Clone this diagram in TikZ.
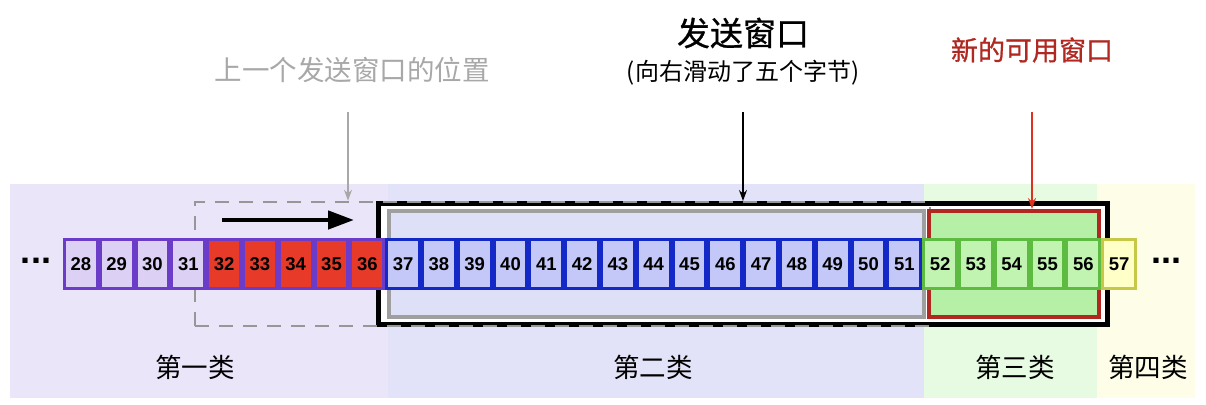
\documentclass[tikz,border=0pt]{standalone}
\usepackage{fontspec}
\setmainfont{Liberation Sans}
\newfontfamily\cjk{Noto Sans CJK SC}
\newfontfamily\cjkm{Noto Sans CJK SC}[FakeBold=0.8]
\usetikzlibrary{arrows.meta}
\definecolor{bgA}{HTML}{EBE5FA}
\definecolor{bgB}{HTML}{E2E3F8}
\definecolor{bgC}{HTML}{E7FAE2}
\definecolor{bgD}{HTML}{FDFDE8}
\definecolor{purB}{HTML}{6A3CC8}
\definecolor{purF}{HTML}{DCD0F4}
\definecolor{redF}{HTML}{E83A28}
\definecolor{bluB}{HTML}{1428C8}
\definecolor{bluF}{HTML}{C4C8F8}
\definecolor{grnB}{HTML}{5CBB40}
\definecolor{grnF}{HTML}{C0F4B0}
\definecolor{yelB}{HTML}{C8C848}
\definecolor{yelF}{HTML}{FFFFC8}
\definecolor{winRed}{HTML}{B02820}
\definecolor{lblGray}{HTML}{A8A8A8}
\definecolor{inFill}{HTML}{DEE0F8}
\definecolor{newFill}{HTML}{B6F0A6}
\definecolor{ptrRed}{HTML}{E03020}
\begin{document}
\begin{tikzpicture}[x=1pt,y=-1pt,
  cell/.style={draw, line width=3pt, minimum width=32.8pt, minimum height=49pt,
    inner sep=0pt, font=\bfseries\fontsize{18.5}{18.5}\selectfont},
  purcell/.style={cell, draw=purB, fill=purF},
  redcell/.style={cell, draw=purB, fill=redF},
  blucell/.style={cell, draw=bluB, fill=bluF},
  grncell/.style={cell, draw=grnB, fill=grnF},
  yelcell/.style={cell, draw=yelB, fill=yelF},
  cjklbl/.style={font=\cjk\fontsize{26.5}{26.5}\selectfont, inner sep=0pt},
  dots/.style={font=\bfseries\fontsize{36}{36}\selectfont, inner sep=0pt},
  thinarrow/.style={line width=1.3pt, -{Stealth[length=11pt,width=8pt]}}
]
\useasboundingbox (0,0) rectangle (1206,404);
\fill[white] (0,0) rectangle (1206,404);
% background regions
\fill[bgA] (10,184) rectangle (388,398);
\fill[bgB] (388,184) rectangle (924,398);
\fill[bgC] (924,184) rectangle (1097,398);
\fill[bgD] (1097,184) rectangle (1195,398);
% region labels
\node[cjklbl] (k1) at (195,367) {第一类};
\node[cjklbl] (k2) at (653,367) {第二类};
\node[cjklbl] (k3) at (1015,367) {第三类};
\node[cjklbl] (k4) at (1148,367) {第四类};
% windows
\node[draw=black, fill=white, line width=5pt, minimum width=729pt, minimum height=121pt, inner sep=0pt] (send) at (743,264) {};
\node[draw=lblGray!90!black, dash pattern=on 14pt off 10pt, line width=2.5pt, minimum width=735pt, minimum height=124pt, inner sep=0pt] (prev) at (562.5,264) {};
\node[draw=gray!75, fill=inFill, line width=4pt, minimum width=535pt, minimum height=106pt, inner sep=0pt] (inner) at (656.5,264) {};
\node[draw=winRed, fill=newFill, line width=4pt, minimum width=170pt, minimum height=106pt, inner sep=0pt] (new) at (1014,264) {};
% cells
\foreach \n in {28,...,31} \node[purcell] (c\n) at ({80.9+35.8*(\n-28)},264) {\n};
\foreach \n in {32,...,36} \node[redcell] (c\n) at ({80.9+35.8*(\n-28)},264) {\n};
\foreach \n in {37,...,51} \node[blucell] (c\n) at ({80.9+35.8*(\n-28)},264) {\n};
\foreach \n in {52,...,56} \node[grncell] (c\n) at ({80.9+35.8*(\n-28)},264) {\n};
\node[yelcell] (c57) at ({80.9+35.8*29},264) {57};
\node[dots] (dl) at (36,261) {...};
\node[dots] (dr) at (1166,261) {...};
% sliding arrow
\coordinate (sa) at (222,220);
\coordinate (sb) at (354,220);
\draw[line width=4.5pt, -{Triangle[length=26pt,width=18pt]}] (sa) -- (sb);
% top labels
\node[inner sep=0pt, text=lblGray, font=\cjk\fontsize{27.5}{27.5}\selectfont] (prevlbl) at (352,70) {上一个发送窗口的位置};
\node[inner sep=0pt, font=\cjkm\fontsize{33}{33}\selectfont] (sendlbl) at (743,33) {发送窗口};
\node[inner sep=0pt, font=\cjk\fontsize{24}{24}\selectfont] (sendsub) at (743,73) {(向右滑动了五个字节)};
\node[inner sep=0pt, text=winRed, font=\cjkm\fontsize{27}{27}\selectfont] (newlbl) at (1032,50) {新的可用窗口};
% pointer arrows
\coordinate (ga) at (348,112);
\draw[thinarrow, lblGray] (ga) -- (ga |- prev.north);
\coordinate (ba) at (743,112);
\draw[thinarrow, black] (ba) -- (send.north);
\coordinate (ra) at (1032,112);
\draw[thinarrow, ptrRed] (ra) -- (ra |- new.north);
\end{tikzpicture}
\end{document}
